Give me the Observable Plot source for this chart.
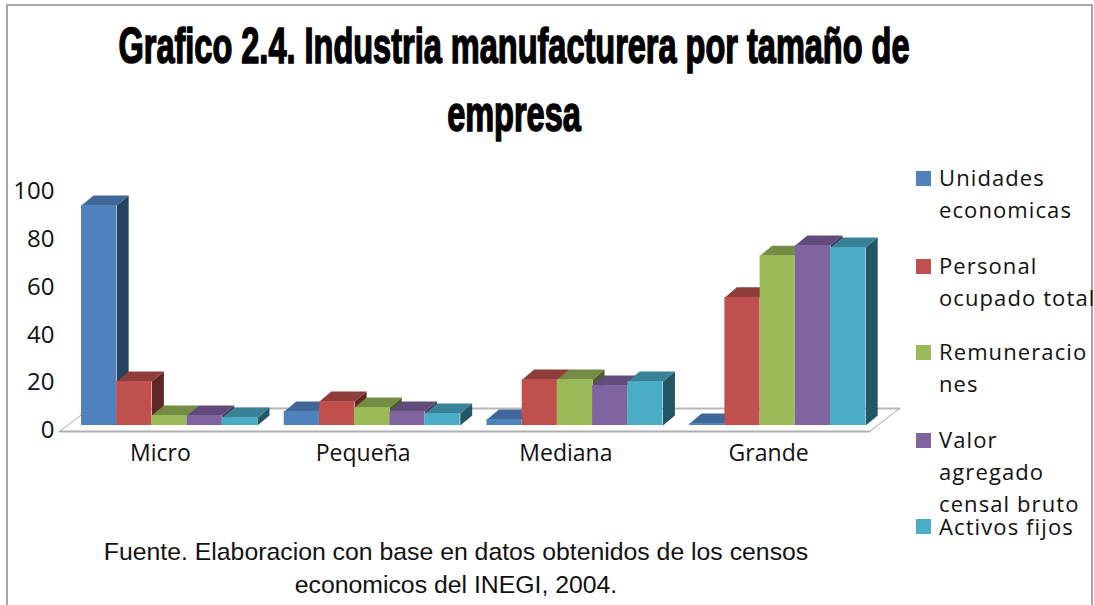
<!DOCTYPE html>
<html lang="es">
<head>
<meta charset="utf-8">
<script src="https://cdn.jsdelivr.net/npm/d3@7"></script>
<script src="https://cdn.jsdelivr.net/npm/@observablehq/plot@0.6"></script>
<style>
html,body{margin:0;padding:0;background:#fff;overflow:hidden;width:1094px;height:605px}
#page{position:relative;width:1094px;height:605px;overflow:hidden}
#frame{position:absolute;left:6px;top:4px;width:1087px;height:700px;border:2px solid #a6a6a6;box-sizing:border-box}
#title{position:absolute;left:-186px;width:1400px;top:12px;text-align:center;margin:0;font:bold 50px/68px "Liberation Sans",sans-serif;color:#000;-webkit-text-stroke:1.6px #000;white-space:nowrap;transform:scaleX(.65);transform-origin:700px 0}
#chart{position:absolute;left:0;top:170px}
#chart svg{overflow:visible}
#caption{position:absolute;left:56px;width:800px;top:535px;text-align:center;font:24.8px/33px "Liberation Sans",sans-serif;color:#111}
.key{position:absolute;left:916px}
.key i{position:absolute;left:0;top:0;width:15px;height:15px}
.key span{position:absolute;left:23px;top:-10px;width:170px;font:22px/32px "Open Sans",sans-serif;letter-spacing:1.1px;color:#111;white-space:pre-line}
.key.single span{top:1px;line-height:12px}
</style>
</head>
<body>
<div id="page">
<div id="frame"></div>
<h1 id="title">Grafico 2.4. Industria manufacturera por tamaño de<br>empresa</h1>
<div id="chart"></div>
<div id="caption">Fuente. Elaboracion con base en datos obtenidos de los censos<br>economicos del INEGI, 2004.</div>
</div>
<script>
const categories = ["Micro", "Pequeña", "Mediana", "Grande"];
const seriesNames = ["Unidades economicas", "Personal ocupado total", "Remuneraciones", "Valor agregado censal bruto", "Activos fijos"];
const unidades = [92, 5.9, 2.5, 0.8];
const personal = [18.4, 10, 19.2, 53.6];
const remuneraciones = [4.2, 7.5, 19.2, 71];
const valor = [4.2, 5.9, 16.7, 75.3];
const activos = [3.3, 5, 18.4, 74.5];
const yTicks = [0, 20, 40, 60, 80, 100];
const frontColors = ["#4f81bd", "#c0504d", "#9bbb59", "#8064a2", "#4bacc6"];
const topColors = ["#3f6797", "#8f3d3b", "#748c43", "#604b7a", "#388197"];
const sideColors = ["#264261", "#602725", "#4d5d2c", "#403251", "#255663"];
const legendLines = ["Unidades\neconomicas", "Personal\nocupado total", "Remuneracio\nnes", "Valor\nagregado\ncensal bruto", "Activos fijos"];
const legendTops = [171, 259, 345, 433, 519];

// Layout in chart units: a bar is 1 wide, a group repeats every 5.76 bars.
const groupStep = 5.76, depthX = 0.34, depthY = 4.2;
const series = [unidades, personal, remuneraciones, valor, activos];
const bars = series.flatMap((vals, s) => vals.map((v, g) => ({
  s, g, v, x1: g * groupStep + s, x2: g * groupStep + s + 1,
  front: frontColors[s], top: topColors[s], side: sideColors[s]
})));
const poly = (d, pts, color) => pts.map(([x, y]) => ({id: `${d.g}-${d.s}`, x, y, color}));
const sides = bars.flatMap(d => poly(d, [[d.x2, 0], [d.x2 + depthX, depthY], [d.x2 + depthX, d.v + depthY], [d.x2, d.v]], d.side));
const tops = bars.flatMap(d => poly(d, [[d.x1, d.v], [d.x1 + depthX, d.v + depthY], [d.x2 + depthX, d.v + depthY], [d.x2, d.v]], d.top));

const floorFrontL = [-0.625, -2.5], floorFrontR = [22.39, -2.5], floorBackL = [0.23, 7.1], floorBackR = [23.24, 7.1];
const seg = (a, b) => [{x: a[0], y: a[1]}, {x: b[0], y: b[1]}];
const groupCenters = categories.map((_, g) => g * groupStep + 2.27);

const chart = Plot.plot({
  width: 1094, height: 300,
  marginLeft: 57, marginRight: 0, marginTop: 10, marginBottom: 39,
  x: {type: "linear", domain: [-0.682, 28.78]},
  y: {domain: [-2.5, 102.5]},
  color: {type: "identity"},
  style: {background: "transparent"},
  marks: [
    Plot.line(seg(floorFrontL, floorBackL), {x: "x", y: "y", stroke: "#aaa", strokeWidth: 1}),
    Plot.line(seg(floorFrontR, floorBackR), {x: "x", y: "y", stroke: "#aaa", strokeWidth: 1}),
    Plot.line(seg(floorBackL, floorBackR), {x: "x", y: "y", stroke: "#b8b8b8", strokeWidth: 2}),
    Plot.line(seg(floorFrontL, floorFrontR), {x: "x", y: "y", stroke: "#b0b0b0", strokeWidth: 2}),
    Plot.line(sides, {x: "x", y: "y", z: "id", fill: "color", stroke: null}),
    Plot.line(tops, {x: "x", y: "y", z: "id", fill: "color", stroke: null}),
    Plot.rect(bars, {x1: "x1", x2: "x2", y1: 0, y2: "v", fill: "front"}),
    Plot.axisY({ticks: yTicks, tickSize: 0, tickPadding: 3, dy: 5, label: null, fontSize: 24, fontFamily: "Open Sans", fill: "#111"}),
    Plot.axisX({ticks: groupCenters, tickFormat: (d, i) => categories[i], tickSize: 0, tickPadding: 13, dx: -1, label: null, fontSize: 23, fontFamily: "Open Sans", fill: "#111", letterSpacing: 1})
  ]
});
document.getElementById("chart").append(chart);

const page = document.getElementById("page");
legendLines.forEach((text, i) => {
  const key = document.createElement("div");
  key.className = text.includes("\n") ? "key" : "key single";
  key.style.top = legendTops[i] + "px";
  const sw = document.createElement("i");
  sw.style.background = frontColors[i];
  const label = document.createElement("span");
  label.textContent = text;
  key.append(sw, label);
  page.append(key);
});
</script>
</body>
</html>
